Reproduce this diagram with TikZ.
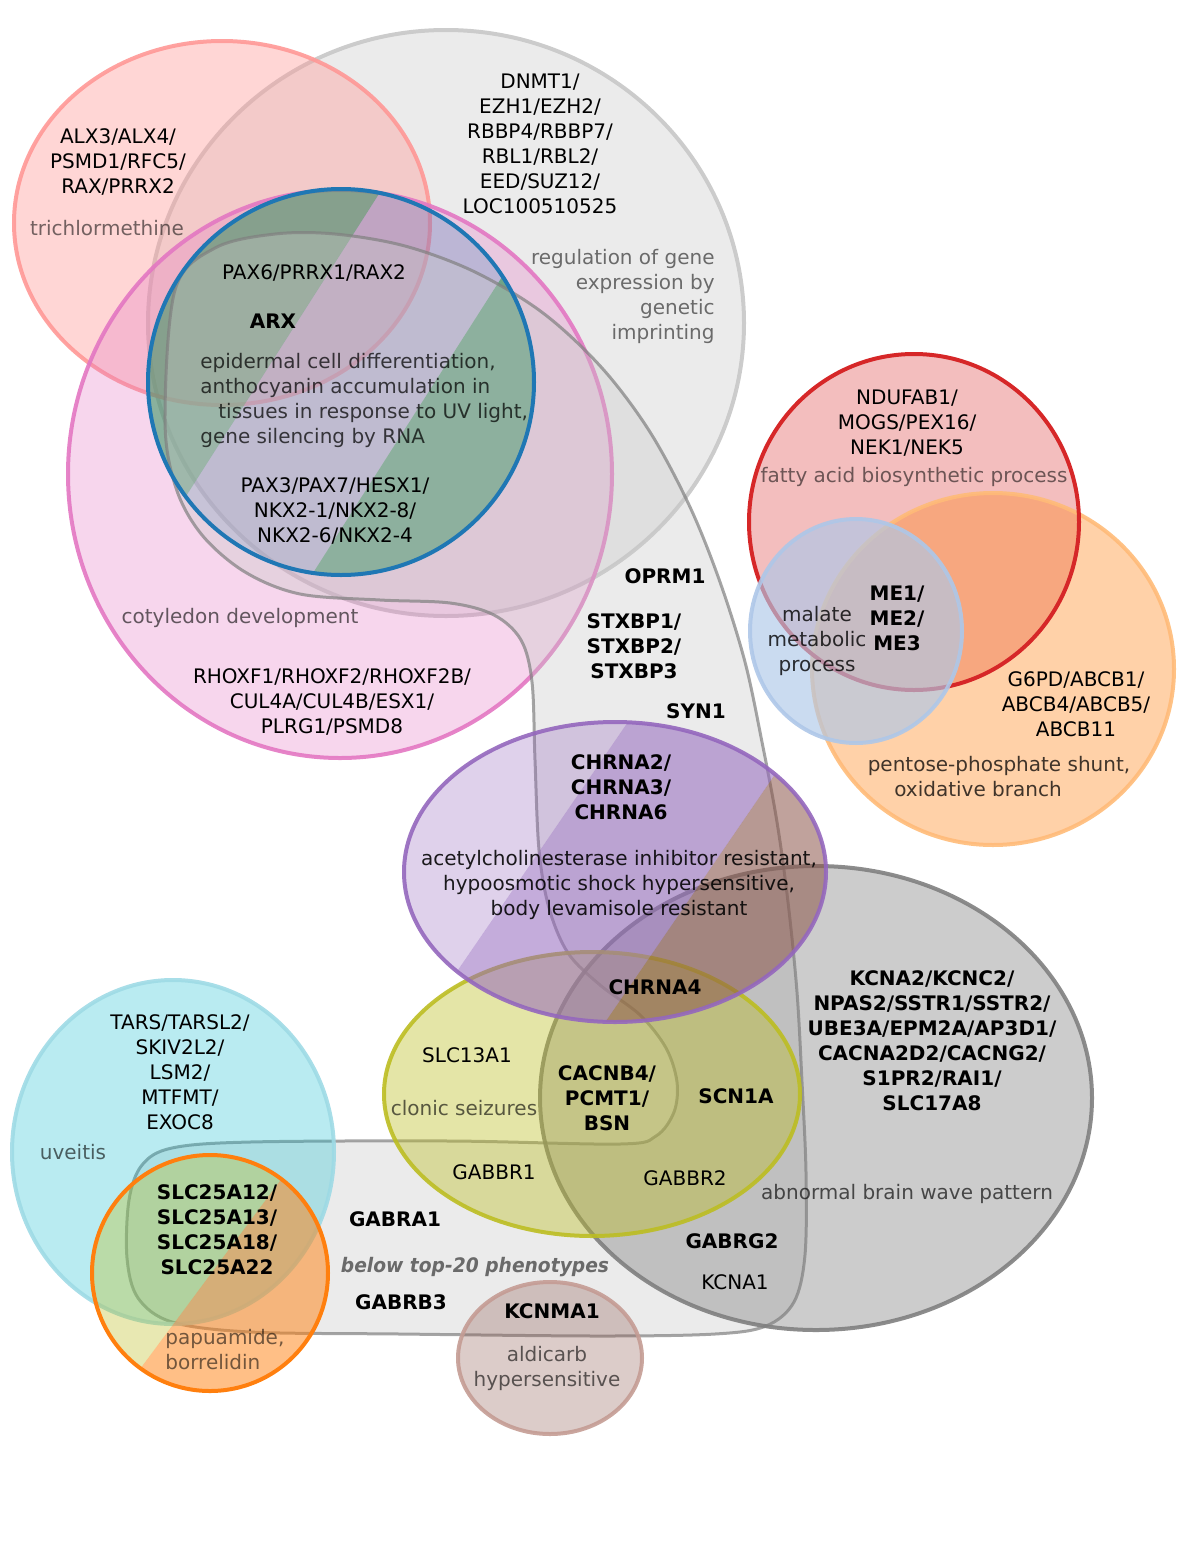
\documentclass[tikz,border=0pt]{standalone}
\usepackage{fontspec}
\setmainfont{DejaVu Sans}
\usetikzlibrary{positioning}

\definecolor{tabblue}{HTML}{1F77B4}
\definecolor{tabgreen}{HTML}{2CA02C}
\definecolor{stripegreen}{HTML}{3C9664}
\definecolor{tabred}{HTML}{D62728}
\definecolor{tabpurple}{HTML}{9467BD}
\definecolor{tabbrown}{HTML}{8C564B}
\definecolor{tabpink}{HTML}{E377C2}
\definecolor{tabgray}{HTML}{7F7F7F}
\definecolor{tabolive}{HTML}{BCBD22}
\definecolor{tabcyan}{HTML}{17BECF}
\definecolor{taborange}{HTML}{FF7F0E}
\definecolor{ltred}{HTML}{FF9896}
\definecolor{ltgray}{HTML}{C7C7C7}
\definecolor{ltorange}{HTML}{FFBB78}
\definecolor{ltblue}{HTML}{AEC7E8}
\definecolor{ltcyan}{HTML}{9EDAE5}
\definecolor{ltbrown}{HTML}{C49C94}

\begin{document}
\begin{tikzpicture}[
    x=0.5pt, y=-0.5pt,
    genes/.style={align=center, inner sep=0pt, font=\fontsize{10}{12.5}\selectfont},
    hub/.style={genes, font=\fontsize{10}{12.5}\selectfont\bfseries},
    pheno/.style={genes, text opacity=0.55},
    ring/.style={line width=2pt, draw opacity=0.9},
    blobline/.style={draw=tabgray, draw opacity=0.7, line width=1.5pt, fill=ltgray, fill opacity=0.35}
]
    \useasboundingbox (0,0) rectangle (1200,1553);

    % Top group
    \fill[ltgray, fill opacity=0.35] (446,323) ellipse [x radius=298, y radius=293];
    \draw[ltgray, ring] (446,323) ellipse [x radius=298, y radius=293];
    \fill[ltred, fill opacity=0.4] (222,223) ellipse [x radius=208, y radius=182];
    \draw[ltred, ring] (222,223) ellipse [x radius=208, y radius=182];
    \fill[tabpink, fill opacity=0.3] (340,474) ellipse [x radius=272, y radius=284];
    \draw[tabpink, ring] (340,474) ellipse [x radius=272, y radius=284];
    \begin{scope}
        \clip (341,382) circle [radius=193];
        \fill[stripegreen, fill opacity=0.58] (100,150) -- (407,150) -- (107,620) -- (100,620) -- cycle;
        \fill[tabblue, fill opacity=0.22] (407,150) -- (583,150) -- (283,620) -- (107,620) -- cycle;
        \fill[stripegreen, fill opacity=0.7] (583,150) -- (600,150) -- (600,620) -- (283,620) -- cycle;
    \end{scope}

    % Below top-20 region
    \path[blobline] plot[smooth cycle, tension=0.55] coordinates {
        (165,420) (175,290) (215,248) (275,234) (335,234) (405,246) (475,272)
        (543,313) (602,368) (650,432) (690,507) (720,582) (745,662) (762,742)
        (777,822) (788,902) (797,992) (802,1082) (806,1172) (805,1255) (794,1302)
        (766,1326) (715,1334) (600,1336) (400,1334) (250,1332) (172,1322)
        (138,1298) (127,1258) (129,1200) (142,1165) (172,1148) (250,1142)
        (450,1141) (620,1144) (656,1136) (674,1112) (677,1082) (666,1048)
        (640,1015) (600,985) (568,953) (549,908) (539,850) (535,760) (532,682)
        (521,640) (494,615) (450,603) (380,600) (300,594) (245,572) (202,535)
        (176,488)};
    \draw[tabblue, ring, draw opacity=1] (341,382) circle [radius=193];

    % Metabolism group
    \fill[tabred, fill opacity=0.3] (914,522) ellipse [x radius=165, y radius=168];
    \fill[taborange, fill opacity=0.36] (993,669) ellipse [x radius=181, y radius=176];
    \draw[ltorange, ring] (993,669) ellipse [x radius=181, y radius=176];
    \draw[tabred, ring, draw opacity=1] (914,522) ellipse [x radius=165, y radius=168];
    \fill[ltblue, fill opacity=0.65] (856,631) ellipse [x radius=106, y radius=112];
    \draw[ltblue, ring] (856,631) ellipse [x radius=106, y radius=112];

    % Neuro group
    \fill[tabgray, fill opacity=0.4] (816,1098) ellipse [x radius=276, y radius=232];
    \draw[tabgray, ring] (816,1098) ellipse [x radius=276, y radius=232];
    \fill[tabolive, fill opacity=0.4] (592,1094) ellipse [x radius=208, y radius=142];
    \draw[tabolive, ring] (592,1094) ellipse [x radius=208, y radius=142];
    \begin{scope}
        \clip (615,872) ellipse [x radius=211, y radius=150];
        \fill[tabpurple, fill opacity=0.3] (380,700) -- (643,700) -- (410,1040) -- (380,1040) -- cycle;
        \fill[tabpurple, fill opacity=0.55] (643,700) -- (826,700) -- (593,1040) -- (410,1040) -- cycle;
        \fill[tabbrown, fill opacity=0.55] (826,700) -- (850,700) -- (850,1040) -- (593,1040) -- cycle;
    \end{scope}
    \draw[tabpurple, ring] (615,872) ellipse [x radius=211, y radius=150];

    % Bottom left group
    \fill[tabcyan, fill opacity=0.3] (173,1152) ellipse [x radius=161, y radius=172];
    \draw[ltcyan, ring] (173,1152) ellipse [x radius=161, y radius=172];
    \begin{scope}
        \clip (210,1273) circle [radius=118];
        \fill[tabolive, fill opacity=0.35] (85,1150) -- (303,1150) -- (117,1400) -- (85,1400) -- cycle;
        \fill[taborange, fill opacity=0.5] (303,1150) -- (335,1150) -- (335,1400) -- (117,1400) -- cycle;
    \end{scope}
    \draw[taborange, ring, draw opacity=1] (210,1273) circle [radius=118];
    \fill[tabbrown, fill opacity=0.3] (550,1358) ellipse [x radius=92, y radius=76];
    \draw[ltbrown, ring] (550,1358) ellipse [x radius=92, y radius=76];

    % Labels, top
    \node[genes] (alx) at (118,162) {ALX3/ALX4/\\PSMD1/RFC5/\\RAX/PRRX2};
    \node[pheno] (trich) at (107,228) {trichlormethine};
    \node[genes] (dnmt) at (540,144) {DNMT1/\\EZH1/EZH2/\\RBBP4/RBBP7/\\RBL1/RBL2/\\EED/SUZ12/\\LOC100510525};
    \node[pheno, align=right, anchor=east] (imprint) at (715,296) {regulation of gene\\expression by\\genetic\\imprinting};
    \node[genes] (pax6) at (314,273) {PAX6/PRRX1/RAX2};
    \node[hub] (arx) at (273,321) {ARX};
    \node[genes, align=left, anchor=west, text opacity=0.72] (epid) at (200,400) {epidermal cell differentiation,\\anthocyanin accumulation in\\\hspace*{9pt}tissues in response to UV light,\\gene silencing by RNA};
    \node[genes] (pax3) at (335,511) {PAX3/PAX7/HESX1/\\NKX2-1/NKX2-8/\\NKX2-6/NKX2-4};
    \node[pheno, text opacity=0.6] (coty) at (240,618) {cotyledon development};
    \node[genes] (rhox) at (332,702) {RHOXF1/RHOXF2/RHOXF2B/\\CUL4A/CUL4B/ESX1/\\PLRG1/PSMD8};
    \node[hub] (oprm) at (665,576) {OPRM1};
    \node[hub] (stx) at (634,646) {STXBP1/\\STXBP2/\\STXBP3};
    \node[hub] (syn) at (696,711) {SYN1};

    % Labels, right
    \node[genes] (nduf) at (907,423) {NDUFAB1/\\MOGS/PEX16/\\NEK1/NEK5};
    \node[pheno] (fatty) at (914,477) {fatty acid biosynthetic process};
    \node[hub] (me) at (897,618) {ME1/\\ME2/\\ME3};
    \node[genes, text opacity=0.8] (malate) at (817,641) {malate\\metabolic\\process};
    \node[genes] (g6pd) at (1076,704) {G6PD/ABCB1/\\ABCB4/ABCB5/\\ABCB11};
    \node[genes, text opacity=0.75] (pentose) at (999,777) {pentose-phosphate shunt,\\oxidative branch\hspace*{21pt}};

    % Labels, middle
    \node[hub] (chrna) at (621,787) {CHRNA2/\\CHRNA3/\\CHRNA6};
    \node[genes, text opacity=0.88] (acetyl) at (619,885) {acetylcholinesterase inhibitor resistant,\\hypoosmotic shock hypersensitive,\\body levamisole resistant};
    \node[hub] (chrna4) at (655,987) {CHRNA4};
    \node[hub] (kcna) at (932,1041) {KCNA2/KCNC2/\\NPAS2/SSTR1/SSTR2/\\UBE3A/EPM2A/AP3D1/\\CACNA2D2/CACNG2/\\S1PR2/RAI1/\\SLC17A8};
    \node[pheno, text opacity=0.65] (brain) at (907,1194) {abnormal brain wave pattern};
    \node[genes] (slc13) at (467,1055) {SLC13A1};
    \node[pheno, text opacity=0.62] (clonic) at (464,1108) {clonic seizures};
    \node[hub] (cacnb) at (607,1098) {CACNB4/\\PCMT1/\\BSN};
    \node[hub] (scn) at (736,1096) {SCN1A};
    \node[genes] (gabbr1) at (494,1172) {GABBR1};
    \node[genes] (gabbr2) at (685,1178) {GABBR2};
    \node[hub] (gabrg) at (732,1241) {GABRG2};
    \node[genes] (kcna1) at (735,1282) {KCNA1};

    % Labels, bottom
    \node[genes] (tars) at (180,1072) {TARS/TARSL2/\\SKIV2L2/\\LSM2/\\MTFMT/\\EXOC8};
    \node[pheno, text opacity=0.6] (uveitis) at (73,1152) {uveitis};
    \node[hub] (slc25) at (217,1230) {SLC25A12/\\SLC25A13/\\SLC25A18/\\SLC25A22};
    \node[pheno, align=left, anchor=west] (papua) at (165,1350) {papuamide,\\borrelidin};
    \node[hub] (gabra) at (395,1219) {GABRA1};
    \node[genes, font=\fontsize{10}{12.5}\selectfont\bfseries\itshape, text opacity=0.55] (below) at (475,1267) {\scalebox{0.934}[1]{below top-20 phenotypes}};
    \node[hub] (gabrb) at (401,1302) {GABRB3};
    \node[hub] (kcnma) at (552,1311) {KCNMA1};
    \node[pheno, text opacity=0.6] (aldi) at (547,1368) {aldicarb\\hypersensitive};
\end{tikzpicture}
\end{document}
